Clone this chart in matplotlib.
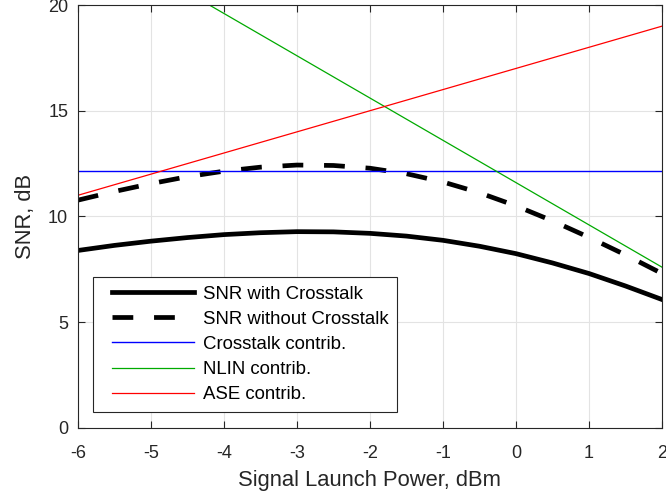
import numpy as np
import matplotlib
matplotlib.use('Agg')
import matplotlib.pyplot as plt
from matplotlib.lines import Line2D
from matplotlib.legend_handler import HandlerLine2D

plt.rcParams['font.family'] = ['Liberation Sans', 'DejaVu Sans']
plt.rcParams['axes.unicode_minus'] = False

# launch power, dBm
power = [-6, -5.5, -5, -4.5, -4, -3.5, -3, -2.5, -2, -1.5, -1, -0.5, 0, 0.5, 1, 1.5, 2]
# SNR curves, dB
snr_xt = [8.39, 8.63, 8.83, 9.00, 9.14, 9.23, 9.28, 9.27, 9.20, 9.07, 8.87, 8.59,
          8.24, 7.80, 7.30, 6.71, 6.07]
snr_no_xt = [10.77, 11.18, 11.55, 11.88, 12.14, 12.33, 12.43, 12.41, 12.28, 12.02,
             11.63, 11.12, 10.50, 9.79, 9.01, 8.18, 7.30]
# straight contributions
xt_power = [-6, 2]
xt_contrib = [12.15, 12.15]
nlin_power = [-6, 2]
nlin_contrib = [23.6, 7.6]
ase_power = [-6, 2]
ase_contrib = [11.0, 19.0]

fig = plt.figure(figsize=(6.66, 5.01), dpi=100)
ax = fig.add_axes([0.117, 0.146, 0.877, 0.844])

ax.plot(power, snr_xt, 'k-', lw=3.4, label='SNR with Crosstalk')
ax.plot(power, snr_no_xt, 'k--', lw=3.4, dashes=(4.4, 4.4), label='SNR without Crosstalk')
ax.plot(xt_power, xt_contrib, color='#0000ff', lw=1.0, label='Crosstalk contrib.')
ax.plot(nlin_power, nlin_contrib, color='#00aa00', lw=0.9, label='NLIN contrib.')
ax.plot(ase_power, ase_contrib, color='#ff0000', lw=0.9, label='ASE contrib.')

ax.set_xlim(-6, 2)
ax.set_ylim(0, 20)
ax.set_xticks(np.arange(-6, 3, 1))
ax.set_yticks([0, 5, 10, 15, 20])
ax.grid(True, color='#e3e3e3', lw=0.8)
ax.set_axisbelow(True)
ax.tick_params(direction='in', top=True, right=True, labelsize=13, length=5,
               width=0.8, color='#262626', labelcolor='#262626', pad=7)
ax.tick_params(axis='x', pad=12)
for s in ax.spines.values():
    s.set_color('#262626')
    s.set_linewidth(0.8)

ax.set_xlabel('Signal Launch Power, dBm', fontsize=15.8, color='#262626', labelpad=6)
ax.set_ylabel('SNR, dB', fontsize=15.8, color='#262626', labelpad=9)

leg = ax.legend(loc='lower left', bbox_to_anchor=(0.026, 0.038), borderaxespad=0,
                fontsize=13.4, handlelength=4.95, handletextpad=0.5, labelspacing=0.44,
                borderpad=0.45, fancybox=False, framealpha=1,
                handler_map={Line2D: HandlerLine2D(xpad=0.55)})
leg.get_frame().set_edgecolor('#262626')
leg.get_frame().set_linewidth(0.8)

fig.savefig('out.png', dpi=100)
